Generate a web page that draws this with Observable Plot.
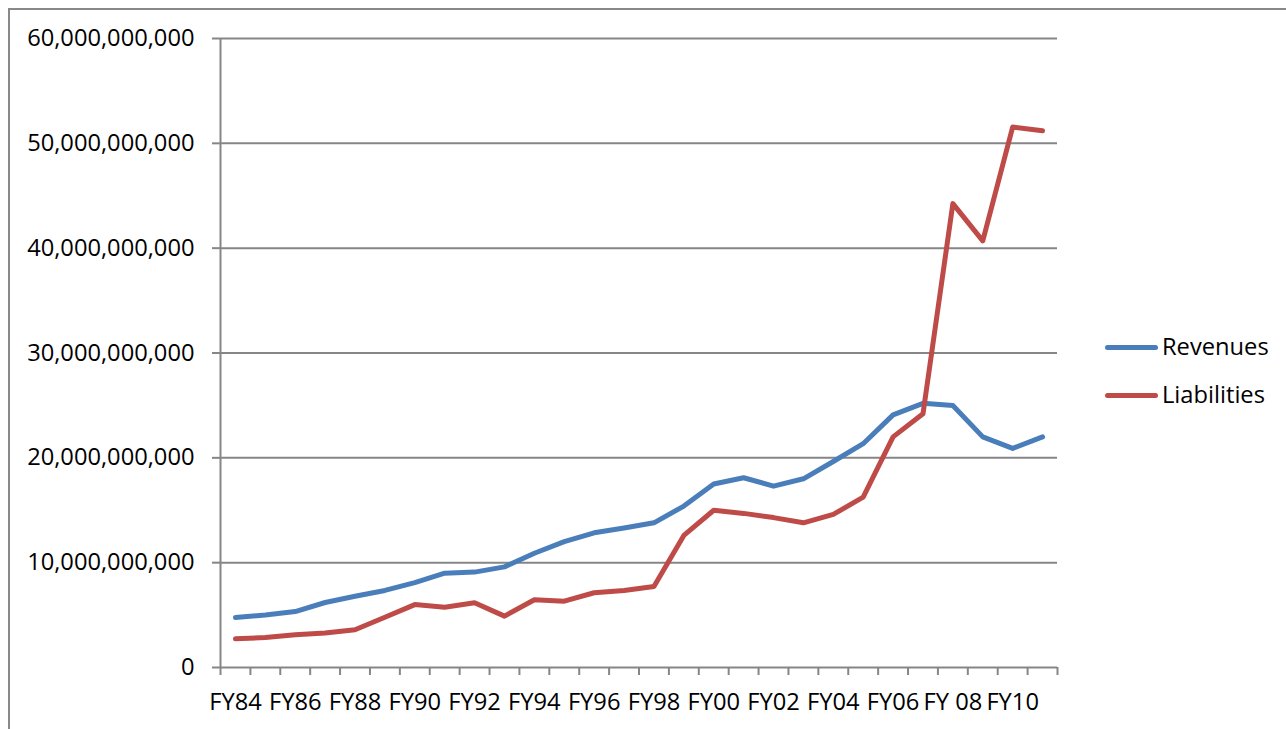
<!DOCTYPE html>
<html><head><meta charset="utf-8">
<script src="https://cdn.jsdelivr.net/npm/d3@7"></script>
<script src="https://cdn.jsdelivr.net/npm/@observablehq/plot@0.6"></script>
<style>
body{margin:0;background:#fff;overflow:hidden}
#wrap{position:relative;width:1286px;height:729px;font-family:"Open Sans",sans-serif;overflow:hidden}
#frame{position:absolute;left:8px;top:8px;width:1290px;height:740px;border:2px solid #898989;box-sizing:border-box;pointer-events:none}
#chart{position:absolute;left:0;top:0}
.legline{position:absolute;height:5px;border-radius:3px}
.legtext{position:absolute;font-size:23.7px;line-height:30px;color:#000}
</style></head><body>
<div id="wrap"><div id="frame"></div><div id="chart"></div></div>
<script>
const categories = ["FY84","FY85","FY86","FY87","FY88","FY89","FY90","FY91","FY92","FY93","FY94","FY95","FY96","FY97","FY98","FY99","FY00","FY01","FY02","FY03","FY04","FY05","FY06","FY07","FY 08","FY09","FY10","FY11"];
const revenues = [4.77e9,5.0e9,5.34e9,6.2e9,6.8e9,7.35e9,8.1e9,9.0e9,9.1e9,9.6e9,10.9e9,12.0e9,12.85e9,13.3e9,13.8e9,15.4e9,17.5e9,18.1e9,17.3e9,18.0e9,19.65e9,21.35e9,24.1e9,25.2e9,25.0e9,22.0e9,20.9e9,22.0e9];
const liabilities = [2.74e9,2.86e9,3.12e9,3.3e9,3.6e9,4.8e9,6.0e9,5.75e9,6.17e9,4.9e9,6.46e9,6.33e9,7.13e9,7.35e9,7.73e9,12.6e9,15.0e9,14.7e9,14.3e9,13.8e9,14.6e9,16.25e9,22.0e9,24.2e9,44.25e9,40.7e9,51.55e9,51.2e9];
const seriesNames = ["Revenues","Liabilities"];
const seriesColors = ["#4A7EBB","#BE4B48"];
const yTicks = [0,1e10,2e10,3e10,4e10,5e10,6e10];

const seriesValues = [revenues, liabilities];
const data = seriesNames.flatMap((name, k) => seriesValues[k].map((v, i) => ({i, name, value: v})));
const boundaries = d3.range(categories.length + 1).map(i => i - 0.5);
const labelIdx = categories.map((d, i) => i).filter(i => i % 2 === 0);
const grid = "#868686";

const chart = Plot.plot({
  width: 1286, height: 729,
  marginLeft: 220, marginRight: 229, marginTop: 38, marginBottom: 62,
  style: {fontFamily: "Open Sans", fontSize: "23.7px", color: "#000", background: "transparent"},
  x: {type: "linear", domain: [-0.5, categories.length - 0.5]},
  y: {domain: [0, 6e10]},
  color: {domain: seriesNames, range: seriesColors},
  marks: [
    Plot.ruleY(yTicks, {stroke: grid, strokeWidth: 2}),
    Plot.ruleX([-0.5], {stroke: grid, strokeWidth: 2}),
    Plot.axisY({ticks: yTicks, tickSize: 8, tickPadding: 18, tickFormat: d3.format(","), stroke: grid, strokeWidth: 2, label: null, fill: "#000"}),
    Plot.axisX({ticks: boundaries, tickSize: 8, tickFormat: () => "", stroke: grid, strokeWidth: 2, label: null}),
    Plot.axisX({ticks: labelIdx, tickSize: 0, tickPadding: 26, tickFormat: i => categories[i], label: null, fill: "#000"}),
    Plot.line(data, {x: "i", y: "value", z: "name", stroke: "name", strokeWidth: 5, strokeLinecap: "round", strokeLinejoin: "round"})
  ]
});
document.getElementById("chart").appendChild(chart);

const wrap = document.getElementById("wrap");
const legY = [347, 395];
seriesNames.forEach((name, k) => {
  const l = document.createElement("div");
  l.className = "legline";
  l.style.left = "1105px"; l.style.width = "53px"; l.style.top = (legY[k] - 2.5) + "px";
  l.style.background = seriesColors[k];
  wrap.appendChild(l);
  const t = document.createElement("div");
  t.className = "legtext";
  t.style.left = "1162px"; t.style.top = (legY[k] - 16) + "px";
  t.textContent = name;
  wrap.appendChild(t);
});
</script>
</body></html>
